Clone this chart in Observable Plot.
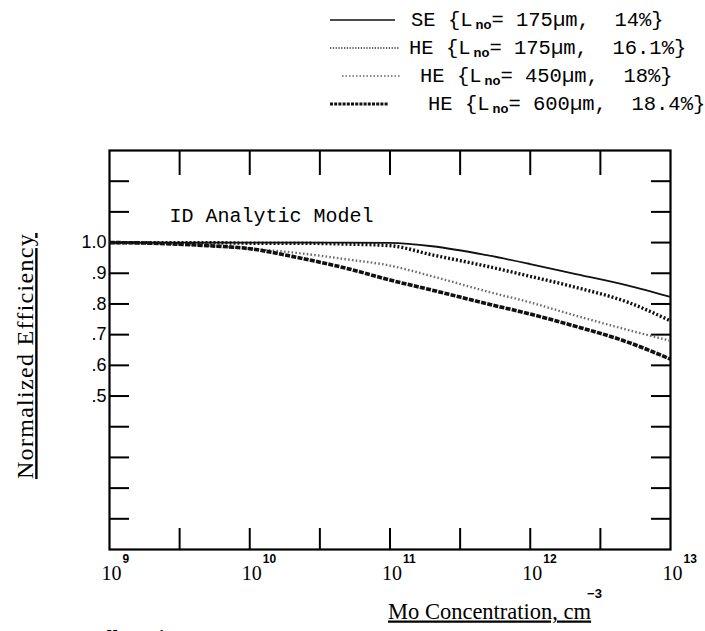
<!DOCTYPE html>
<html><head><meta charset="utf-8">
<script src="https://cdn.jsdelivr.net/npm/d3@7"></script>
<script src="https://cdn.jsdelivr.net/npm/@observablehq/plot@0.6"></script>
<style>
html,body{margin:0;padding:0;background:#fff;overflow:hidden}
#wrap{position:relative;width:705px;height:631px}
#legend{position:absolute;left:0;top:0}
</style></head><body><div id="wrap"></div>
<script>
// ---- data ----
const conc = [1e9, 2e9, 5e9, 1e10, 2e10, 5e10, 1e11, 2e11, 5e11, 1e12, 2e12, 5e12, 1e13];
const effSE    = [1.000, 1.000, 1.000, 1.000, 1.000, 1.000, 0.999, 0.988, 0.958, 0.930, 0.900, 0.860, 0.823];
const effHE175 = [1.000, 1.000, 1.000, 0.998, 0.998, 0.995, 0.990, 0.960, 0.922, 0.890, 0.857, 0.805, 0.745];
const effHE450 = [1.000, 0.998, 0.990, 0.980, 0.968, 0.945, 0.925, 0.890, 0.840, 0.805, 0.765, 0.715, 0.680];
const effHE600 = [1.000, 0.998, 0.990, 0.980, 0.955, 0.915, 0.878, 0.845, 0.800, 0.767, 0.730, 0.675, 0.620];

const seriesCell = ["SE", "HE", "HE", "HE"];
const seriesLno  = ["175µm", "175µm", "450µm", "600µm"];
const seriesPct  = ["14%", "16.1%", "18%", "18.4%"];

const xDecades = [1e9, 1e10, 1e11, 1e12, 1e13];
const xExponents = ["9", "10", "11", "12", "13"];
const xMinorTicks = [3.162e9, 1e10, 3.162e10, 1e11, 3.162e11, 1e12, 3.162e12];
const yTicks = [0.1, 0.2, 0.3, 0.4, 0.5, 0.6, 0.7, 0.8, 0.9, 1.0, 1.1, 1.2];
const yLabelValues = [0.5, 0.6, 0.7, 0.8, 0.9, 1.0];
const yLabelText = [".5", ".6", ".7", ".8", ".9", "1.0"];

// ---- layout ----
const W = 705, H = 631, mL = 109, mR = 35, mT = 150, mB = 82;
const plotW = W - mL - mR, plotH = H - mT - mB;

const rows = [];
const effs = [effSE, effHE175, effHE450, effHE600];
effs.forEach((arr, s) => arr.forEach((v, i) => rows.push({conc: conc[i], eff: v, s})));

const styles = [
  {stroke: "#111", strokeWidth: 1.8},
  {stroke: "#111", strokeWidth: 3.4, strokeDasharray: "2,2"},
  {stroke: "#6f6f6f", strokeWidth: 2.4, strokeDasharray: "1.6,2.2"},
  {stroke: "#111", strokeWidth: 3.6, strokeDasharray: "5,1.3"}
];
const drawOrder = [2, 0, 1, 3];

const mono = "Liberation Mono, DejaVu Sans Mono, monospace";
const serif = "Liberation Serif, DejaVu Serif, serif";
const sans = "Liberation Sans, Arial, sans-serif";

const svg = Plot.plot({
  width: W, height: H,
  marginLeft: mL, marginRight: mR, marginTop: mT, marginBottom: mB,
  style: {background: "white", color: "black"},
  x: {type: "log", domain: [1e9, 1e13], axis: null},
  y: {domain: [0, 1.3], axis: null},
  marks: [
    Plot.tickX(xMinorTicks, {x: d => d, insetTop: plotH - 21, strokeWidth: 2}),
    Plot.tickX(xMinorTicks, {x: d => d, insetBottom: plotH - 25, strokeWidth: 2}),
    Plot.tickY(yTicks, {y: d => d, insetRight: plotW - 20, strokeWidth: 2}),
    Plot.tickY(yTicks, {y: d => d, insetLeft: plotW - 19, strokeWidth: 2}),
    Plot.frame({strokeWidth: 2.2}),
    ...drawOrder.map(s => Plot.line(rows.filter(r => r.s === s), {
      x: "conc", y: "eff", curve: "monotone-x", strokeLinecap: "butt", ...styles[s]
    })),
    Plot.text(yLabelValues, {y: d => d, frameAnchor: "left", dx: -3, textAnchor: "end",
      text: (d, i) => yLabelText[i], fontFamily: sans, fontSize: 18}),
    Plot.text(xDecades, {x: d => d, frameAnchor: "bottom", dy: 30, dx: 2, textAnchor: "middle",
      text: () => "10", fontFamily: serif, fontSize: 20}),
    Plot.text(xDecades, {x: d => d, frameAnchor: "bottom", dy: 13, dx: 13, textAnchor: "start",
      text: (d, i) => xExponents[i], fontFamily: sans, fontSize: 12, fontWeight: "bold"}),
    Plot.text(["ID Analytic Model"], {frameAnchor: "top-left", dx: 60, dy: 57, textAnchor: "start",
      text: d => d, fontFamily: mono, fontSize: 20}),
    Plot.text(["Normalized Efficiency"], {frameAnchor: "left", dx: -84, dy: 6, rotate: -90,
      textAnchor: "middle", text: d => d, fontFamily: serif, fontSize: 24}),
    Plot.text(["Mo Concentration, cm"], {frameAnchor: "bottom", dx: -2, dy: 69, textAnchor: "start",
      text: d => d, fontFamily: serif, fontSize: 22.5}),
    Plot.text(["HE Cell Design"], {frameAnchor: "bottom-left", dx: -66, dy: 80, textAnchor: "start",
      lineAnchor: "top", text: d => d, fontFamily: serif, fontSize: 22, fontWeight: "bold"})
  ]
});

d3.select(svg).selectAll("text").each(function() {
  const t = this.textContent;
  if (t === "Normalized Efficiency") {
    d3.select(this).style("text-decoration", "underline").style("letter-spacing", "1.3px");
  } else if (t === "Mo Concentration, cm") {
    const sel = d3.select(this);
    sel.text(null);
    sel.append("tspan").style("text-decoration", "underline").text("Mo Concentration, cm");
    sel.append("tspan").attr("dy", -21).attr("dx", -4).attr("font-size", 13)
      .attr("font-weight", "bold").attr("font-family", sans).text("−3");
  }
});

const wrap = document.getElementById("wrap");
wrap.appendChild(svg);

// ---- legend (above the plot area) ----
const legendLayout = [
  {y: 19, x1: 330, x2: 395, tx: 411},
  {y: 47, x1: 330, x2: 400, tx: 409},
  {y: 75, x1: 342, x2: 400, tx: 420},
  {y: 103, x1: 330, x2: 388, tx: 428}
];
const legendStyles = [
  {stroke: "#111", width: 1.6, dash: null},
  {stroke: "#222", width: 1.6, dash: "1.2,1.6"},
  {stroke: "#888", width: 1.8, dash: "1.5,2"},
  {stroke: "#111", width: 3, dash: "3,1.2"}
];
const leg = d3.select(wrap).append("svg").attr("id", "legend").attr("width", W).attr("height", 125);
legendLayout.forEach((L, i) => {
  const st = legendStyles[i];
  leg.append("line").attr("x1", L.x1).attr("x2", L.x2).attr("y1", L.y + 1).attr("y2", L.y + 1)
    .attr("stroke", st.stroke).attr("stroke-width", st.width).attr("stroke-dasharray", st.dash);
  const t = leg.append("text").attr("x", L.tx).attr("y", L.y + 7)
    .attr("font-family", mono).attr("font-size", 20.5).attr("fill", "black")
    .style("white-space", "pre");
  t.append("tspan").text(`${seriesCell[i]} {L`);
  t.append("tspan").attr("dx", 3).attr("dy", 3).attr("font-family", sans).attr("font-size", 13)
    .attr("font-weight", "bold").text("no");
  t.append("tspan").attr("dy", -3).text(`= ${seriesLno[i]},  ${seriesPct[i]}}`);
});
</script></body></html>
